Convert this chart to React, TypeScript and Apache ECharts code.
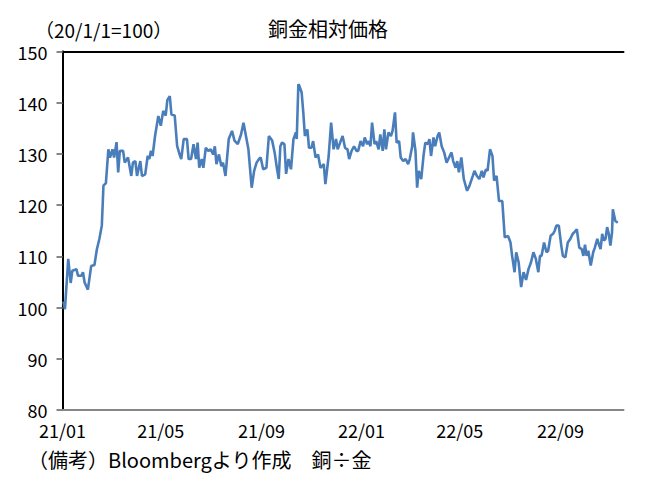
import React, { useEffect, useRef } from "react";
import * as echarts from "echarts";

const chartTitle = "銅金相対価格";
const unitLabel = "（20/1/1=100）";
const footnote = "（備考）Bloombergより作成　銅÷金";

// x axis: days since 2021-01-01
const tickDays = [0, 120, 243, 365, 485, 608];
const tickLabels = ["21/01", "21/05", "21/09", "22/01", "22/05", "22/09"];
const axisMaxDay = 685;

const dayOffsets = [
  1, 3, 7, 10, 12, 17, 19, 23, 25, 27, 31, 35, 39, 42, 45, 48, 50, 53, 56, 58,
  61, 63, 66, 68, 70, 74, 76, 80, 84, 86, 89, 91, 95, 97, 101, 104, 106, 108, 110, 113,
  117, 120, 123, 126, 128, 131, 133, 137, 140, 143, 145, 148, 152, 154, 157, 160, 163, 165, 167, 170,
  172, 175, 178, 181, 184, 186, 188, 191, 194, 196, 199, 203, 207, 210, 214, 218, 221, 224, 227, 231,
  234, 237, 240, 242, 245, 249, 252, 256, 259, 262, 264, 266, 268, 271, 273, 276, 279, 282, 285, 286,
  288, 289, 292, 294, 296, 299, 301, 304, 306, 309, 312, 315, 319, 321, 325, 328, 331, 334, 336, 339,
  342, 345, 348, 350, 353, 356, 359, 361, 364, 367, 369, 372, 374, 376, 378, 381, 383, 386, 388, 391,
  393, 395, 398, 401, 403, 406, 408, 411, 413, 416, 419, 422, 424, 427, 428, 431, 433, 435, 438, 441,
  443, 446, 448, 450, 453, 455, 458, 460, 463, 466, 469, 472, 475, 477, 480, 482, 484, 487, 490, 494,
  497, 501, 503, 506, 509, 512, 514, 517, 519, 522, 525, 527, 530, 533, 537, 540, 544, 547, 549, 552,
  554, 557, 560, 563, 566, 569, 572, 575, 578, 581, 583, 585, 588, 591, 593, 596, 599, 601, 603, 606,
  609, 611, 614, 617, 620, 623, 625, 628, 631, 634, 636, 638, 640, 642, 645, 648, 650, 653, 655, 657,
  659, 661, 663, 665, 667, 669, 671, 672, 675, 678,
];

const relativePrice = [
  101.2, 99.7, 109.5, 104.8, 107.2, 107.5, 106.2, 106.2, 106.9, 104.9, 103.5, 108.1, 108.3, 111.4, 113.4, 116.0, 123.8, 124.3, 130.9, 129.3,
  130.9, 129.3, 132.3, 126.4, 130.6, 130.6, 128.3, 129.3, 125.7, 128.3, 128.6, 125.7, 128.6, 125.7, 126.0, 129.6, 129.0, 130.6, 129.6, 133.5,
  137.4, 135.5, 138.4, 137.5, 140.5, 141.3, 137.7, 137.5, 131.5, 129.9, 129.0, 132.9, 132.9, 129.0, 129.0, 131.9, 129.0, 132.2, 127.3, 129.0,
  127.3, 131.2, 130.6, 130.9, 129.9, 131.5, 128.0, 129.9, 127.6, 128.3, 125.7, 132.9, 134.5, 132.6, 131.9, 133.8, 136.1, 133.5, 130.9, 123.4,
  126.7, 128.3, 129.0, 129.3, 127.0, 127.3, 133.5, 132.6, 130.3, 127.0, 125.1, 131.5, 132.2, 131.9, 126.1, 129.0, 127.0, 132.9, 134.2, 132.9,
  143.6, 143.4, 142.0, 138.1, 133.5, 134.8, 131.2, 131.2, 132.5, 129.3, 129.9, 127.3, 128.0, 124.1, 129.6, 136.1, 130.9, 132.9, 130.9, 132.2,
  133.5, 131.2, 130.9, 129.0, 130.6, 131.5, 130.6, 130.6, 132.5, 131.5, 133.2, 131.9, 132.5, 131.5, 136.1, 131.9, 132.5, 130.9, 133.8, 130.6,
  134.8, 130.9, 134.2, 133.5, 134.5, 138.1, 132.2, 132.5, 129.3, 128.6, 129.0, 128.0, 129.0, 131.5, 134.2, 130.6, 123.4, 126.7, 125.1, 129.9,
  132.2, 131.9, 132.9, 129.6, 133.2, 131.5, 133.5, 134.2, 131.5, 130.3, 128.3, 129.3, 130.3, 128.6, 127.3, 128.6, 126.4, 129.3, 125.1, 122.8,
  123.8, 125.7, 126.7, 125.7, 125.1, 126.7, 125.4, 127.0, 126.7, 130.9, 129.6, 124.8, 125.7, 120.8, 120.8, 113.7, 114.0, 112.7, 110.1, 106.9,
  110.8, 108.8, 104.0, 106.9, 105.4, 107.5, 108.8, 110.8, 109.5, 106.9, 110.1, 110.1, 112.7, 110.8, 111.1, 114.0, 114.4, 115.0, 116.0, 116.0,
  112.1, 110.1, 109.8, 112.7, 113.4, 114.4, 114.7, 115.3, 111.7, 111.4, 110.1, 112.3, 110.1, 111.1, 108.2, 110.8, 111.7, 113.4, 112.3, 111.4,
  114.4, 113.1, 113.4, 115.7, 114.4, 112.1, 114.7, 119.2, 116.9, 116.6,
];

const yMin = 80;
const yMax = 150;
const yStep = 10;

const FONT = "'Noto Sans CJK JP', 'Noto Sans', sans-serif";

export default function App() {
  const ref = useRef<HTMLDivElement>(null);

  useEffect(() => {
    if (!ref.current) return;
    const chart = echarts.init(ref.current, null, { renderer: "svg" });
    const seriesData = dayOffsets.map((d, i) => [d, relativePrice[i]]);
    chart.setOption({
      animation: false,
      backgroundColor: "#ffffff",
      textStyle: { fontFamily: FONT },
      grid: { left: 62.5, right: 34.5, top: 51.5, bottom: 77, containLabel: false },
      graphic: [
        {
          type: "text",
          left: 35,
          top: 20,
          style: { text: unitLabel, fontSize: 19, fill: "#000", fontFamily: FONT },
        },
        {
          type: "text",
          left: 268,
          top: 18,
          style: { text: chartTitle, fontSize: 20, fill: "#000", fontFamily: FONT },
        },
        {
          type: "text",
          left: 28,
          top: 449,
          style: { text: footnote, fontSize: 20, fill: "#000", fontFamily: FONT },
        },
      ],
      xAxis: [
        {
          type: "value",
          min: 0,
          max: axisMaxDay,
          axisLine: { show: true, lineStyle: { color: "#868686", width: 2 } },
          axisTick: { show: false },
          splitLine: { show: false },
          axisLabel: {
            customValues: tickDays,
            formatter: (v: number) => {
              const i = tickDays.indexOf(Math.round(v));
              return i >= 0 ? tickLabels[i] : "";
            },
            fontSize: 18,
            color: "#000",
            margin: 11,
            fontFamily: FONT,
          },
        },
        {
          type: "value",
          position: "top",
          min: 0,
          max: axisMaxDay,
          axisLine: { show: true, lineStyle: { color: "#000", width: 2 } },
          axisTick: { show: false },
          axisLabel: { show: false },
          splitLine: { show: false },
        },
      ],
      yAxis: [
        {
          type: "value",
          min: yMin,
          max: yMax,
          interval: yStep,
          axisLine: { show: true, lineStyle: { color: "#868686", width: 2 } },
          axisTick: { show: true, length: 6, lineStyle: { color: "#868686", width: 2 } },
          splitLine: { show: false },
          axisLabel: { fontSize: 18, color: "#000", margin: 15, fontFamily: FONT },
        },
        {
          type: "value",
          position: "right",
          min: yMin,
          max: yMax,
          interval: yStep,
          axisLine: { show: true, lineStyle: { color: "#000", width: 2 } },
          axisTick: { show: false },
          axisLabel: { show: false },
          splitLine: { show: false },
        },
      ],
      series: [
        {
          type: "line",
          data: seriesData,
          xAxisIndex: 0,
          yAxisIndex: 0,
          showSymbol: false,
          symbol: "none",
          lineStyle: { color: "#4a7ebb", width: 2.6 },
        },
      ],
    });
    return () => chart.dispose();
  }, []);

  return (
    <div
      ref={ref}
      style={{ position: "fixed", left: 0, top: 0, width: 658, height: 487 }}
    />
  );
}
